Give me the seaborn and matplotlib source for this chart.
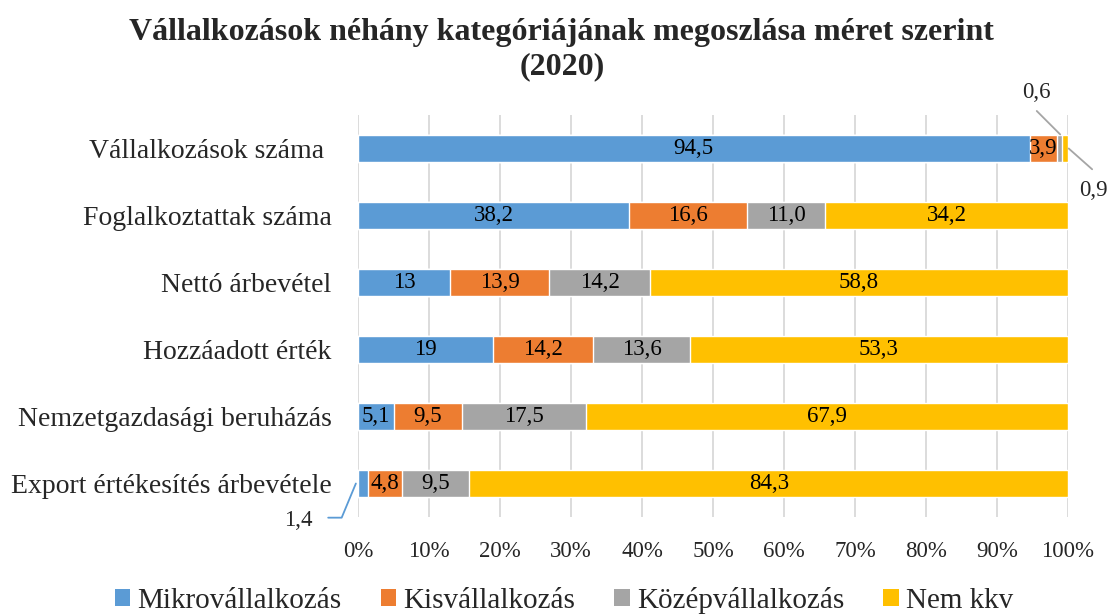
import numpy as np
import pandas as pd
import matplotlib
matplotlib.use("Agg")
import matplotlib.pyplot as plt
import seaborn as sns
from matplotlib.patches import Patch

# -------------------------
# Data
# -------------------------
categories = [
    "Vállalkozások száma ",
    "Foglalkoztattak száma",
    "Nettó árbevétel",
    "Hozzáadott érték",
    "Nemzetgazdasági beruházás",
    "Export értékesítés árbevétele",
]
series = ["Mikrovállalkozás", "Kisvállalkozás", "Középvállalkozás", "Nem kkv"]
mikro = [94.5, 38.2, 13, 19, 5.1, 1.4]
kis = [3.9, 16.6, 13.9, 14.2, 9.5, 4.8]
kozep = [0.6, 11.0, 14.2, 13.6, 17.5, 9.5]
nemkkv = [0.9, 34.2, 58.8, 53.3, 67.9, 84.3]
labels = [
    ["94,5", "3,9", "", ""],
    ["38,2", "16,6", "11,0", "34,2"],
    ["13", "13,9", "14,2", "58,8"],
    ["19", "14,2", "13,6", "53,3"],
    ["5,1", "9,5", "17,5", "67,9"],
    ["", "4,8", "9,5", "84,3"],
]
colors = ["#5B9BD5", "#ED7D31", "#A5A5A5", "#FFC000"]
xticks = list(range(0, 101, 10))

# -------------------------
# Prepare (100% stacked)
# -------------------------
vals = np.array([mikro, kis, kozep, nemkkv]).T
share = vals / vals.sum(axis=1, keepdims=True) * 100
cum = np.cumsum(share, axis=1)

df = pd.DataFrame(cum, columns=series)
df["kategoria"] = categories

sns.set_theme(style="white")
plt.rcParams["font.family"] = ["Liberation Serif", "DejaVu Serif"]

fig = plt.figure(figsize=(11.08, 6.14), dpi=100)
ax = fig.add_axes([358 / 1108, 1 - 517 / 614, 710 / 1108, 402 / 614])

for gridx in xticks:
    ax.axvline(gridx, color="#D9D9D9", lw=1.3, zorder=0)

# draw from the widest layer to the narrowest
for j in range(3, -1, -1):
    sns.barplot(data=df, x=series[j], y="kategoria", orient="h",
                color=colors[j], saturation=1, width=0.4, ax=ax, zorder=2)

# -------------------------
# Segment labels
# -------------------------
for i in range(len(categories)):
    left = 0
    for j in range(4):
        txt = labels[i][j]
        if txt:
            ax.text(left + share[i, j] / 2, i, txt, ha="center", va="center",
                    fontsize=16.5, color="black", zorder=4)
        left += share[i, j]

# callouts for small segments
line_kw = dict(color="#A5A5A5", lw=1.3, clip_on=False, zorder=3)
ax.plot([95.6, 98.9], [-0.56, -0.21], **line_kw)
ax.text(95.6, -0.83, "0,6", ha="center", va="center", fontsize=16.5)
ax.plot([100.1, 103.4], [0.0, 0.31], **line_kw)
ax.text(103.6, 0.62, "0,9", ha="center", va="center", fontsize=16.5)
ax.plot([-4.2, -2.3, -0.3], [5.51, 5.51, 5.0], color="#5B9BD5", lw=1.3,
        clip_on=False, zorder=3)
ax.text(-8.4, 5.55, "1,4", ha="center", va="center", fontsize=16.5)

# -------------------------
# Axes styling
# -------------------------
ax.set_xlim(0, 100)
ax.set_ylim(5.5, -0.5)
ax.set_xticks(xticks)
ax.set_xticklabels([f"{t}%" for t in xticks], fontsize=16.5)
ax.tick_params(axis="x", pad=17, length=0)
ax.tick_params(axis="y", pad=19, length=0, labelsize=20)
ax.set_xlabel("")
ax.set_ylabel("")
for s in ax.spines.values():
    s.set_visible(False)

fig.text(0.507, 0.97, "Vállalkozások néhány kategóriájának megoszlása méret szerint\n(2020)",
         ha="center", va="top", fontsize=23, fontweight="bold", linespacing=1.2)

handles = [Patch(facecolor=c, edgecolor="none") for c in colors]
fig.legend(handles, series, loc="center", bbox_to_anchor=(0.509, 0.022), ncol=4,
           frameon=False, fontsize=21, handlelength=0.52, handleheight=0.52,
           handletextpad=0.25, columnspacing=1.35, borderpad=0)

plt.savefig("out.png", dpi=100)
